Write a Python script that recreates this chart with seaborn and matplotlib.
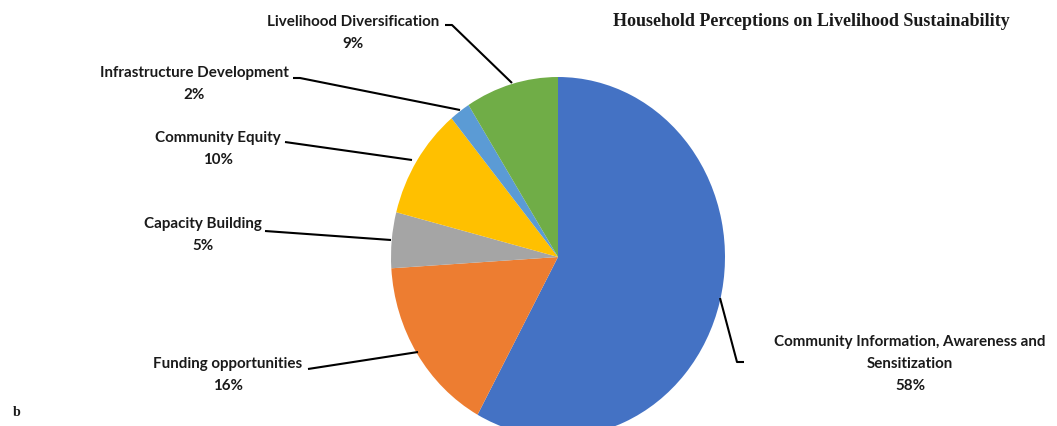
import matplotlib
matplotlib.use("Agg")
import matplotlib.pyplot as plt
import seaborn as sns

# ---- data ----
categories = ["Community Information, Awareness and\nSensitization",
              "Funding opportunities", "Capacity Building", "Community Equity",
              "Infrastructure Development", "Livelihood Diversification"]
shares = [58, 16, 5, 10, 2, 9]
colors = ["#4472C4", "#ED7D31", "#A5A5A5", "#FFC000", "#5B9BD5", "#70AD47"]
title = "Household Perceptions on Livelihood Sustainability"
panel = "b"

# ---- layout (pixel space of the 1057x426 image) ----
W, H = 1057, 426
CX, CY, RX, RY = 558, 257, 167, 180


def px(x, y):
    return ((x - CX) / RX, (CY - y) / RY)


# label block centre (first line), and leader polyline in pixels
label_pos = [(910, 342), (228, 364), (203, 224), (218, 138), (194, 73), (353, 22)]
leaders = [
    [(720, 298), (737, 362), (744, 362)],
    [(308, 369), (418, 352)],
    [(265, 231), (391, 240)],
    [(285, 142), (412, 160)],
    [(293, 78), (300, 78), (460, 110)],
    [(445, 25), (452, 25), (512, 83)],
]

sns.set_theme(style="white")
plt.rcParams["font.family"] = ["Lato", "DejaVu Sans"]

fig = plt.figure(figsize=(W / 100, H / 100), dpi=100)
ax = fig.add_axes([0, 0, 1, 1])
ax.pie(shares, colors=colors, startangle=90, counterclock=False,
       wedgeprops=dict(linewidth=0))
ax.set_aspect("auto")
x0, y0 = px(0, H)
x1, y1 = px(W, 0)
ax.set_xlim(x0, x1)
ax.set_ylim(y0, y1)
ax.axis("off")

LINE = 22
for name, val, (lx, ly), pts in zip(categories, shares, label_pos, leaders):
    lines = name.split("\n") + [f"{val}%"]
    for i, t in enumerate(lines):
        ax.text(*px(lx, ly + i * LINE), t, ha="center", va="center",
                fontsize=10.9, fontweight="bold", color="#1a1a1a")
    xs, ys = zip(*[px(*p) for p in pts])
    ax.plot(xs, ys, color="black", lw=1.5, solid_capstyle="butt")

ax.text(*px(811, 22), title, ha="center", va="center", fontsize=13,
        fontweight="bold", family=["Liberation Serif", "DejaVu Serif"], color="#1a1a1a")
ax.text(*px(17, 412), panel, ha="center", va="center", fontsize=10,
        fontweight="bold", family=["Liberation Serif", "DejaVu Serif"], color="#1a1a1a")

fig.savefig("out.png", dpi=100)
